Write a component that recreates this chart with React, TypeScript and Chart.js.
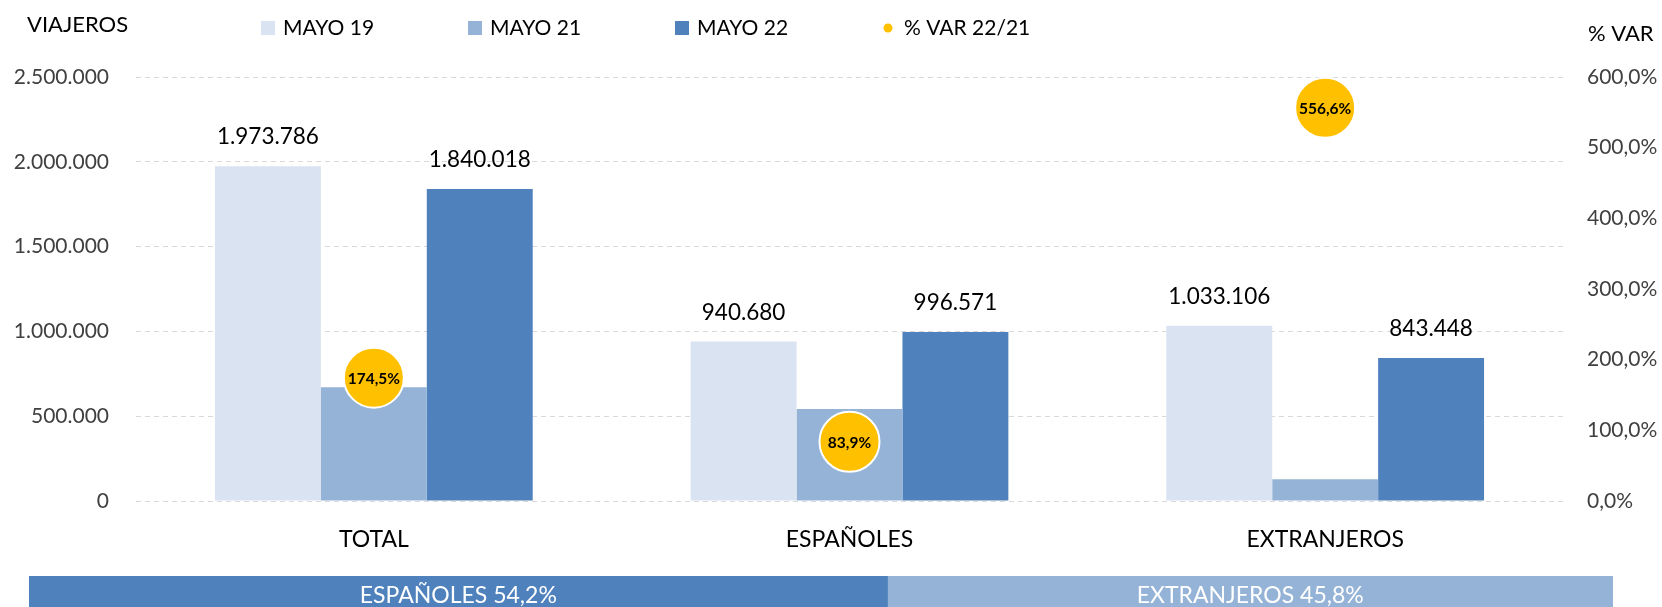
import React, { useEffect, useRef } from 'react';
import { Chart, registerables } from 'chart.js';

Chart.register(...registerables);

// ---------- DATA ----------
const categories = ['TOTAL', 'ESPAÑOLES', 'EXTRANJEROS'];
const mayo19 = [1973786, 940680, 1033106];
const mayo21 = [670315, 541910, 128457];
const mayo22 = [1840018, 996571, 843448];
const varPct = [174.5, 83.9, 556.6];
const leftTicks = [0, 500000, 1000000, 1500000, 2000000, 2500000];
const rightTicks = [0, 100, 200, 300, 400, 500, 600];
const shareLabels = ['ESPAÑOLES', 'EXTRANJEROS'];
const shareValues = [54.2, 45.8];

const FONT = 'Lato, "Open Sans", sans-serif';
const C19 = '#DAE3F1';
const C21 = '#95B3D7';
const C22 = '#4F81BD';
const CVAR = '#FFC000';

const fmtThousands = (n: number) =>
  Math.round(n).toString().replace(/\B(?=(\d{3})+(?!\d))/g, '.');
const fmtPct = (v: number) => v.toFixed(1).replace('.', ',') + '%';

const mainPlugin = {
  id: 'mainDecor',
  afterDraw(chart: any) {
    const ctx = chart.ctx;
    ctx.save();
    // axis titles
    ctx.fillStyle = '#000';
    ctx.font = `22px ${FONT}`;
    ctx.textBaseline = 'middle';
    ctx.textAlign = 'left';
    ctx.fillText('VIAJEROS', 27, 25);
    ctx.fillText('% VAR', 1588, 34);

    // legend
    const legendX = [261, 468, 675, 884];
    const legendY = 28;
    const items = [
      { text: chart.data.datasets[0].label, color: chart.data.datasets[0].backgroundColor, dot: false },
      { text: chart.data.datasets[1].label, color: chart.data.datasets[1].backgroundColor, dot: false },
      { text: chart.data.datasets[2].label, color: chart.data.datasets[2].backgroundColor, dot: false },
      { text: chart.data.datasets[3].label, color: CVAR, dot: true },
    ];
    items.forEach((it, i) => {
      const x = legendX[i];
      ctx.fillStyle = it.color;
      if (it.dot) {
        ctx.beginPath();
        ctx.arc(x + 4, legendY, 4.5, 0, Math.PI * 2);
        ctx.fill();
      } else {
        ctx.fillRect(x, legendY - 7, 14, 14);
      }
      ctx.fillStyle = '#000';
      ctx.font = `21px ${FONT}`;
      ctx.textAlign = 'left';
      ctx.fillText(it.text, x + (it.dot ? 20 : 22), legendY);
    });

    // bar value labels (MAYO 19 and MAYO 22)
    ctx.font = `22.5px ${FONT}`;
    ctx.textAlign = 'center';
    ctx.fillStyle = '#000';
    [0, 2].forEach((di) => {
      const meta = chart.getDatasetMeta(di);
      meta.data.forEach((bar: any, i: number) => {
        const v = chart.data.datasets[di].data[i];
        ctx.fillText(fmtThousands(v), bar.x, bar.y - 29);
      });
    });

    // bubble labels
    const lm = chart.getDatasetMeta(3);
    ctx.font = `bold 15.5px ${FONT}`;
    lm.data.forEach((pt: any, i: number) => {
      ctx.fillText(fmtPct(chart.data.datasets[3].data[i]), pt.x, pt.y + 1);
    });
    ctx.restore();
  },
};

const sharePlugin = {
  id: 'shareLabels',
  afterDatasetsDraw(chart: any) {
    const ctx = chart.ctx;
    ctx.save();
    ctx.fillStyle = '#fff';
    ctx.font = `23px ${FONT}`;
    ctx.textAlign = 'center';
    ctx.textBaseline = 'middle';
    chart.data.datasets.forEach((ds: any, di: number) => {
      const meta = chart.getDatasetMeta(di);
      meta.data.forEach((bar: any, i: number) => {
        const cx = (bar.x + bar.base) / 2;
        ctx.fillText(`${ds.label} ${fmtPct(ds.data[i])}`, cx, bar.y + 2);
      });
    });
    ctx.restore();
  },
};

export default function App() {
  const mainRef = useRef<HTMLCanvasElement>(null);
  const shareRef = useRef<HTMLCanvasElement>(null);

  useEffect(() => {
    const main = new Chart(mainRef.current as HTMLCanvasElement, {
      type: 'bar',
      data: {
        labels: categories,
        datasets: [
          { label: 'MAYO 19', data: mayo19, backgroundColor: C19, yAxisID: 'y', order: 1, barPercentage: 1, categoryPercentage: 0.668 },
          { label: 'MAYO 21', data: mayo21, backgroundColor: C21, yAxisID: 'y', order: 1, barPercentage: 1, categoryPercentage: 0.668 },
          { label: 'MAYO 22', data: mayo22, backgroundColor: C22, yAxisID: 'y', order: 1, barPercentage: 1, categoryPercentage: 0.668 },
          {
            type: 'line',
            label: '% VAR 22/21',
            data: varPct,
            yAxisID: 'y1',
            showLine: false,
            pointRadius: 30,
            pointHoverRadius: 30,
            pointBackgroundColor: CVAR,
            pointBorderColor: '#FFFFFF',
            pointBorderWidth: 2,
            order: 0,
          } as any,
        ],
      },
      options: {
        animation: false,
        responsive: false,
        maintainAspectRatio: false,
        events: [],
        layout: { padding: { top: 77, bottom: 46, left: 0, right: 0 } },
        plugins: { legend: { display: false }, tooltip: { enabled: false } },
        scales: {
          x: {
            grid: { display: false },
            border: { display: false },
            ticks: { color: '#000', font: { family: FONT, size: 23 }, padding: 17 },
            afterFit: (s: any) => { s.height = 60; },
          },
          y: {
            position: 'left',
            min: 0,
            max: 2500000,
            afterBuildTicks: (s: any) => { s.ticks = leftTicks.map((v) => ({ value: v })); },
            grid: { color: '#D9D9D9', drawTicks: false, lineWidth: 1 },
            border: { display: false, dash: [5, 4] },
            ticks: {
              color: '#404040',
              font: { family: FONT, size: 21 },
              padding: 27,
              callback: (v: any) => fmtThousands(Number(v)),
            },
            afterFit: (s: any) => { s.width = 136; },
          },
          y1: {
            position: 'right',
            min: 0,
            max: 600,
            afterBuildTicks: (s: any) => { s.ticks = rightTicks.map((v) => ({ value: v })); },
            grid: { display: false, drawTicks: false },
            border: { display: false },
            ticks: {
              color: '#404040',
              font: { family: FONT, size: 21 },
              padding: 24,
              callback: (v: any) => fmtPct(Number(v)),
            },
            afterFit: (s: any) => { s.width = 99; },
          },
        },
      } as any,
      plugins: [mainPlugin],
    });

    const share = new Chart(shareRef.current as HTMLCanvasElement, {
      type: 'bar',
      data: {
        labels: [''],
        datasets: shareValues.map((v, i) => ({
          label: shareLabels[i],
          data: [v],
          backgroundColor: i === 0 ? C22 : C21,
          barPercentage: 1,
          categoryPercentage: 1,
        })),
      },
      options: {
        indexAxis: 'y',
        animation: false,
        responsive: false,
        maintainAspectRatio: false,
        events: [],
        layout: { padding: 0 },
        plugins: { legend: { display: false }, tooltip: { enabled: false } },
        scales: {
          x: { stacked: true, display: false, min: 0, max: 100 },
          y: { stacked: true, display: false },
        },
      } as any,
      plugins: [sharePlugin],
    });

    return () => {
      main.destroy();
      share.destroy();
    };
  }, []);

  return (
    <div
      style={{
        position: 'fixed',
        left: 0,
        top: 0,
        width: 1662,
        height: 607,
        overflow: 'hidden',
        background: '#fff',
      }}
    >
      <canvas
        ref={mainRef}
        width={1662}
        height={607}
        style={{ position: 'absolute', left: 0, top: 0, width: 1662, height: 607 }}
      />
      <canvas
        ref={shareRef}
        width={1584}
        height={36}
        style={{ position: 'absolute', left: 29, top: 576, width: 1584, height: 36 }}
      />
    </div>
  );
}
